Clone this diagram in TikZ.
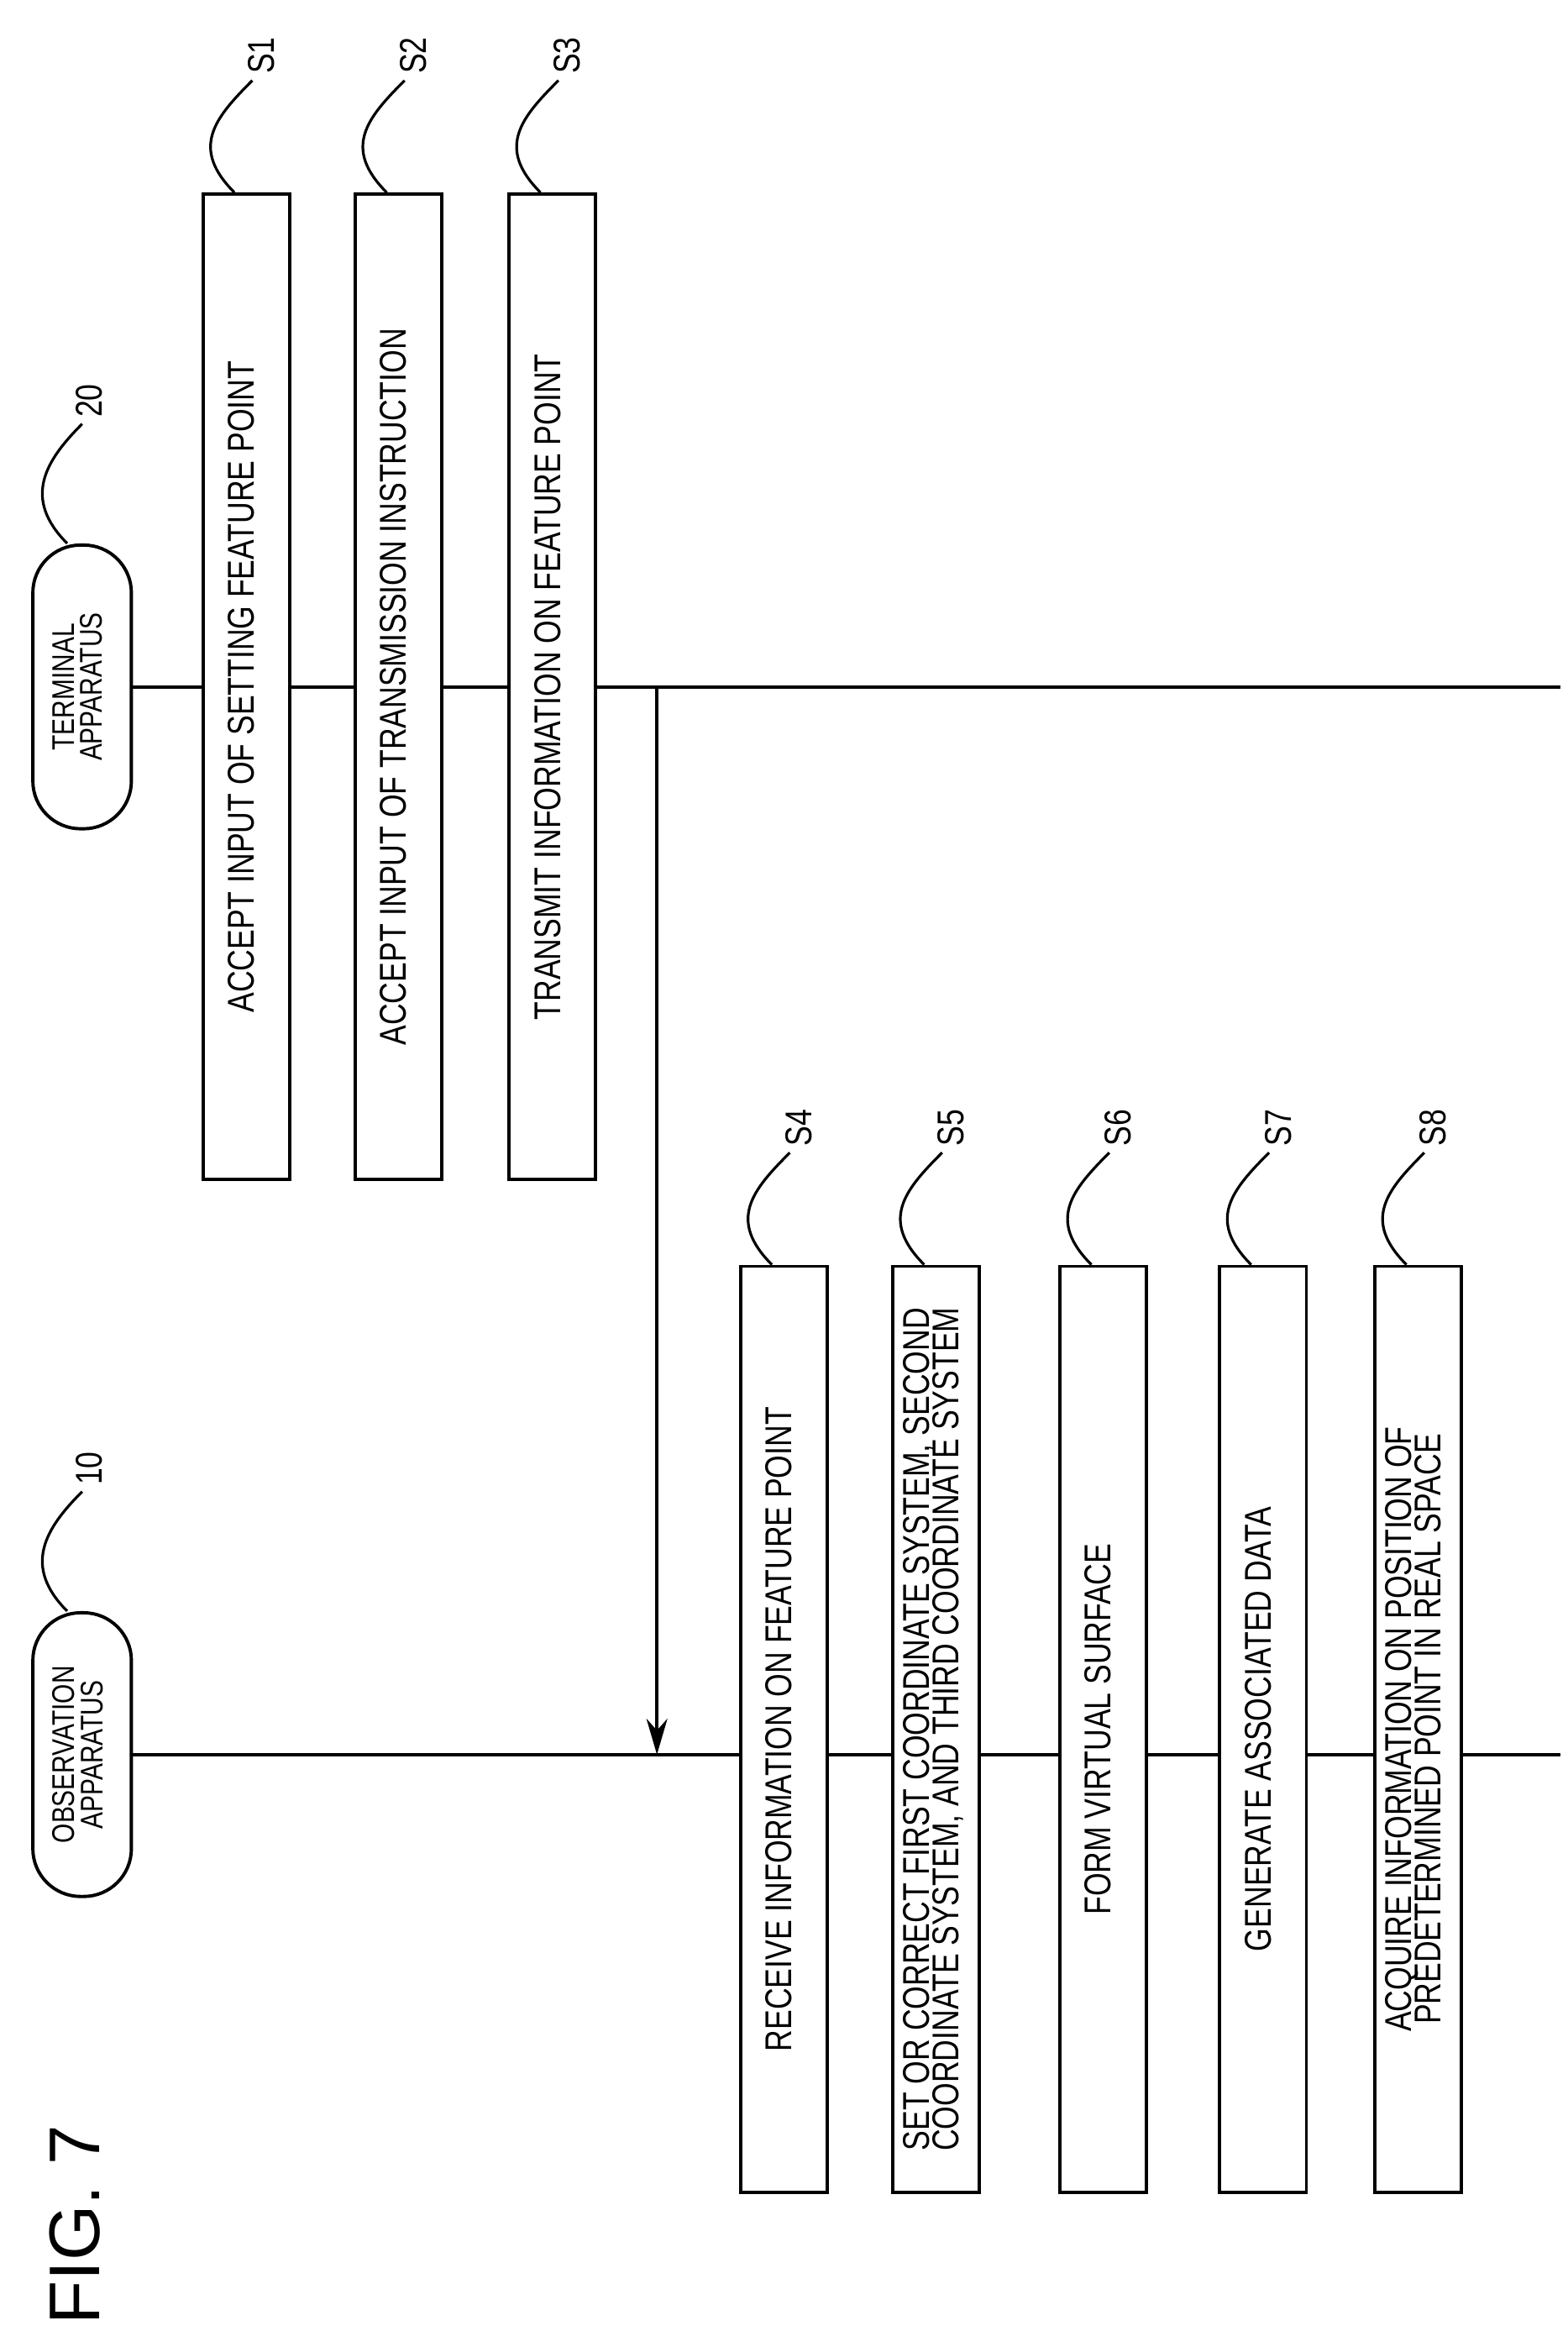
\documentclass[tikz,border=0pt]{standalone}
\usepackage{fontspec}
\setmainfont{Liberation Sans}
\usetikzlibrary{arrows.meta,calc}

\tikzset{
    step box/.style={draw,fill=white,line width=1.1pt,rotate=90,inner sep=0pt,
                     minimum width=330pt,minimum height=29pt,font=\fontsize{12.5}{13}\selectfont},
    actor/.style={draw,fill=white,line width=1.1pt,rotate=90,rounded corners=16pt,inner sep=0pt,
                  minimum width=95pt,minimum height=33pt,font=\fontsize{10.5}{10}\selectfont},
    tag/.style={rotate=90,font=\fontsize{12.5}{13}\selectfont,inner sep=1pt},
    life/.style={line width=1.1pt},
    squig/.style={line width=0.9pt}
}
\newcommand{\nar}[1]{\scalebox{0.8}[1]{\begin{tabular}{@{}c@{}}#1\end{tabular}}}

\begin{document}
\begin{tikzpicture}[x=0.5pt,y=-0.5pt]
    \useasboundingbox (0,0) rectangle (1050,1561);

    \node[rotate=90,font=\fontsize{24}{24}\selectfont] (fig) at (50,1490) {FIG. 7};

    % lifelines
    \node[actor] (obs) at (55,1175) {\nar{OBSERVATION\\[-1pt]APPARATUS}};
    \node[actor] (term) at (55,460) {\nar{TERMINAL\\[-1pt]APPARATUS}};
    \coordinate (obsend) at (1045,1175);
    \coordinate (termend) at (1045,460);
    \coordinate (tx) at (440,460);
    \coordinate (rx) at (440,1175);
    \draw[life] (obs.south) -- (obsend);
    \draw[life] (term.south) -- (termend);
    \draw[life,-{Stealth[length=12pt,width=7pt]}] (tx) -- (rx);

    % terminal steps
    \node[step box] (s1) at (165,460) {\nar{ACCEPT INPUT OF SETTING FEATURE POINT}};
    \node[step box] (s2) at (267,460) {\nar{ACCEPT INPUT OF TRANSMISSION INSTRUCTION}};
    \node[step box] (s3) at (370,460) {\nar{TRANSMIT INFORMATION ON FEATURE POINT}};

    % observation steps
    \node[step box,minimum width=310pt] (s4) at (525,1158) {\nar{RECEIVE INFORMATION ON FEATURE POINT}};
    \node[step box,minimum width=310pt] (s5) at (627,1158) {\nar{SET OR CORRECT FIRST COORDINATE SYSTEM, SECOND\\[-3pt]COORDINATE SYSTEM, AND THIRD COORDINATE SYSTEM}};
    \node[step box,minimum width=310pt] (s6) at (739,1158) {\nar{FORM VIRTUAL SURFACE}};
    \node[step box,minimum width=310pt] (s7) at (846,1158) {\nar{GENERATE ASSOCIATED DATA}};
    \node[step box,minimum width=310pt] (s8) at (950,1158) {\nar{ACQUIRE INFORMATION ON POSITION OF\\[-3pt]PREDETERMINED POINT IN REAL SPACE}};

    % reference signs
    \foreach \b/\t in {s1/S1,s2/S2,s3/S3,s4/S4,s5/S5,s6/S6,s7/S7,s8/S8}{
        \coordinate (\b a) at ($(\b.east)+(-8,0)$);
        \coordinate (\b b) at ($(\b a)+(12,-75)$);
        \draw[squig] (\b a) .. controls +(-30,-30) and +(-25,25) .. (\b b);
        \node[tag,anchor=west] (\b t) at ($(\b b)+(6,-2)$) {\scalebox{0.8}[1]{\t}};
    }
    \foreach \b/\t in {obs/10,term/20}{
        \coordinate (\b a) at ($(\b.east)+(-10,0)$);
        \coordinate (\b b) at ($(\b a)+(10,-80)$);
        \draw[squig] (\b a) .. controls +(-30,-30) and +(-25,25) .. (\b b);
        \node[tag,anchor=west] (\b t) at ($(\b b)+(5,-2)$) {\scalebox{0.8}[1]{\t}};
    }
\end{tikzpicture}
\end{document}
